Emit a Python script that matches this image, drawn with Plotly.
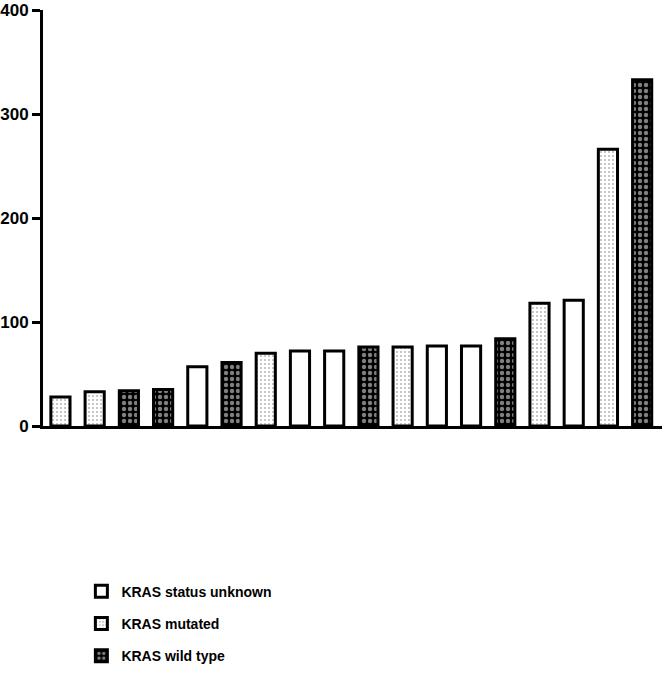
import plotly.graph_objects as go

# Patients sorted by value, each with its KRAS status
patients = [f"P{i}" for i in range(1, 19)]
values = [28, 33, 34, 35, 57, 61, 70, 72, 72, 76, 76, 77, 77, 84, 118, 121, 266, 333]
status = ["mutated", "mutated", "wild", "wild", "unknown", "wild", "mutated", "unknown",
          "unknown", "wild", "mutated", "unknown", "unknown", "wild", "mutated", "unknown",
          "mutated", "wild"]

groups = ["unknown", "mutated", "wild"]
labels = {"unknown": "KRAS status unknown", "mutated": "KRAS mutated", "wild": "KRAS wild type"}
patterns = {
    "unknown": dict(shape=""),
    "mutated": dict(shape=".", fgcolor="black", bgcolor="white", size=4, solidity=0.13),
    "wild": dict(shape=".", fgcolor="white", bgcolor="black", size=6, solidity=0.42),
}

fig = go.Figure()
for g in groups:
    xs = [i for i, s in enumerate(status) if s == g]
    ys = [values[i] for i in xs]
    fig.add_trace(go.Bar(
        x=xs, y=ys, name=labels[g], width=0.56, legendgroup=g,
        marker=dict(color="white", line=dict(color="black", width=3), pattern=patterns[g]),
    ))

fig.update_layout(
    width=664, height=675,
    margin=dict(l=43, r=2, t=10, b=249),
    plot_bgcolor="white", paper_bgcolor="white",
    barmode="overlay",
    font=dict(family="Liberation Sans, Arial", color="black"),
    legend=dict(x=0.062, y=-0.36, xanchor="left", yanchor="top",
                font=dict(size=14, weight="bold"), tracegroupgap=11),
    showlegend=True,
)
fig.update_xaxes(range=[-0.51, 17.58], showticklabels=False, ticks="", showgrid=False,
                 showline=True, linecolor="black", linewidth=3, zeroline=False,
                 automargin=False)
fig.update_yaxes(range=[0, 400], tickvals=[0, 100, 200, 300, 400], showgrid=False,
                 showline=True, linecolor="black", linewidth=3, zeroline=False,
                 ticks="outside", ticklen=8, tickwidth=3, tickcolor="black",
                 tickfont=dict(size=17, weight="bold"), automargin=False)

# drop the default page margin so the figure sits at the window's corner
fig.write_html("out.html", config={"displayModeBar": False},
               post_script="document.body.style.margin='0';")
